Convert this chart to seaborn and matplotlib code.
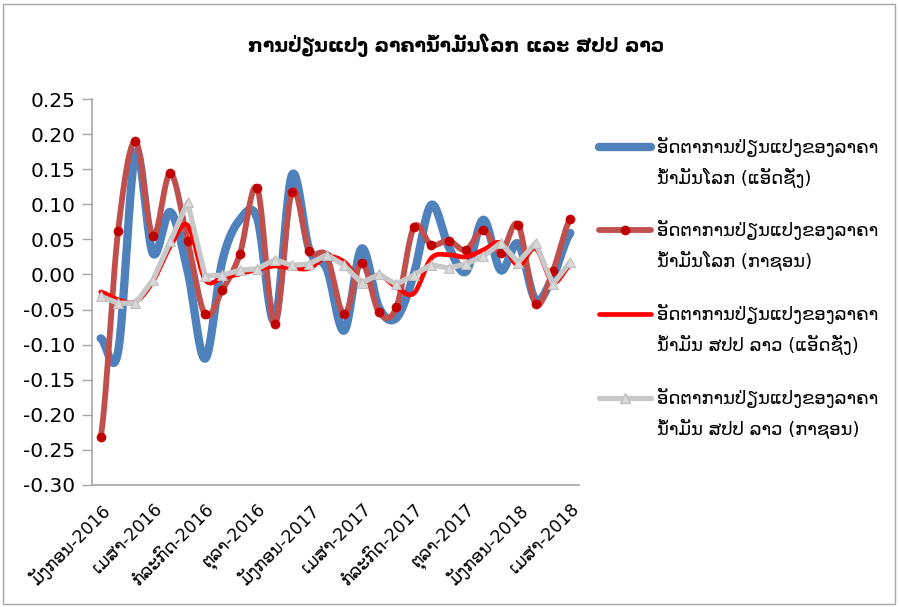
import numpy as np
import pandas as pd
import matplotlib
matplotlib.use("Agg")
import matplotlib.pyplot as plt
import seaborn as sns
from matplotlib.lines import Line2D
from matplotlib.patches import Rectangle

# ---------------- data ----------------
months = [
    "ມັງກອນ-2016", "ກຸມພາ-2016", "ມີນາ-2016", "ເມສາ-2016", "ພຶດສະພາ-2016", "ມິຖຸນາ-2016",
    "ກໍລະກົດ-2016", "ສິງຫາ-2016", "ກັນຍາ-2016", "ຕຸລາ-2016", "ພະຈິກ-2016", "ທັນວາ-2016",
    "ມັງກອນ-2017", "ກຸມພາ-2017", "ມີນາ-2017", "ເມສາ-2017", "ພຶດສະພາ-2017", "ມິຖຸນາ-2017",
    "ກໍລະກົດ-2017", "ສິງຫາ-2017", "ກັນຍາ-2017", "ຕຸລາ-2017", "ພະຈິກ-2017", "ທັນວາ-2017",
    "ມັງກອນ-2018", "ກຸມພາ-2018", "ມີນາ-2018", "ເມສາ-2018",
]
world_trend = [-0.091, -0.110, 0.173, 0.030, 0.089, 0.005, -0.120, 0.020, 0.078, 0.080,
               -0.066, 0.142, 0.035, 0.008, -0.080, 0.037, -0.047, -0.062, 0.000, 0.099,
               0.040, 0.004, 0.078, 0.006, 0.044, -0.036, -0.003, 0.059]
world_actual = [-0.232, 0.062, 0.190, 0.055, 0.144, 0.048, -0.057, -0.022, 0.029, 0.123,
                -0.071, 0.118, 0.034, 0.026, -0.057, 0.017, -0.054, -0.047, 0.067, 0.042,
                0.048, 0.035, 0.064, 0.031, 0.071, -0.042, 0.005, 0.079]
lao_trend = [-0.025, -0.036, -0.039, -0.010, 0.040, 0.070, -0.007, -0.005, 0.001, 0.007,
             0.012, 0.009, 0.009, 0.025, 0.018, -0.010, -0.001, -0.018, -0.027, 0.023,
             0.028, 0.025, 0.035, 0.045, 0.013, 0.037, -0.011, 0.013]
lao_actual = [-0.031, -0.041, -0.041, -0.008, 0.047, 0.103, -0.002, -0.001, 0.006, 0.008,
              0.021, 0.013, 0.015, 0.028, 0.013, -0.012, 0.000, -0.014, -0.001, 0.014,
              0.009, 0.015, 0.026, 0.045, 0.017, 0.045, -0.014, 0.018]

title = "ການປ່ຽນແປງ ລາຄານ້ຳມັນໂລກ ແລະ ສປປ ລາວ"
legend_labels = [
    ("ອັດຕາການປ່ຽນແປງຂອງລາຄາ", "ນ້ຳມັນໂລກ (ແອັດຊັ່ງ)"),
    ("ອັດຕາການປ່ຽນແປງຂອງລາຄາ", "ນ້ຳມັນໂລກ (ກາຊອນ)"),
    ("ອັດຕາການປ່ຽນແປງຂອງລາຄາ", "ນ້ຳມັນ ສປປ ລາວ (ແອັດຊັ່ງ)"),
    ("ອັດຕາການປ່ຽນແປງຂອງລາຄາ", "ນ້ຳມັນ ສປປ ລາວ (ກາຊອນ)"),
]
yticks = [0.25, 0.20, 0.15, 0.10, 0.05, 0.00, -0.05, -0.10, -0.15, -0.20, -0.25, -0.30]

# ---------------- style ----------------
sns.set_theme(style="white")
plt.rcParams["font.family"] = ["DejaVu Sans"]
plt.rcParams["axes.unicode_minus"] = False

W, H = 899, 607
fig = plt.figure(figsize=(W / 100, H / 100), dpi=100)
ax = fig.add_axes([92 / W, 1 - 485 / H, (579 - 92) / W, (485 - 99) / H])

def smooth(xv, yv, n=24):
    """Excel-like smoothed curve (uniform Catmull-Rom) through the data points."""
    xv = np.asarray(xv, float)
    yv = np.asarray(yv, float)
    xs, ys = [], []
    m = len(yv)
    for i in range(m - 1):
        p0 = yv[i - 1] if i > 0 else yv[i]
        p1, p2 = yv[i], yv[i + 1]
        p3 = yv[i + 2] if i + 2 < m else yv[i + 1]
        t = np.linspace(0, 1, n, endpoint=(i == m - 2))
        yy = 0.5 * (2 * p1 + (-p0 + p2) * t + (2 * p0 - 5 * p1 + 4 * p2 - p3) * t ** 2
                    + (-p0 + 3 * p1 - 3 * p2 + p3) * t ** 3)
        xs.append(xv[i] + (xv[i + 1] - xv[i]) * t)
        ys.append(yy)
    return np.concatenate(xs), np.concatenate(ys)

xpos = np.arange(len(months))
df = pd.DataFrame({"x": xpos, "wt": world_trend, "wa": world_actual,
                   "lt": lao_trend, "la": lao_actual})

c_blue = "#4F81BD"
c_dred = "#C0504D"
c_red = "#FF0000"
c_gray = "#C8C8C8"

sx, sy = smooth(df["x"], df["wt"])
sns.lineplot(x=sx, y=sy, ax=ax, color=c_blue, linewidth=6.0, sort=False,
             estimator=None, solid_capstyle="round", solid_joinstyle="round")
sx, sy = smooth(df["x"], df["wa"])
sns.lineplot(x=sx, y=sy, ax=ax, color=c_dred, linewidth=4.2, sort=False,
             estimator=None, solid_capstyle="round", solid_joinstyle="round")
sns.scatterplot(data=df, x="x", y="wa", ax=ax, color="#C00000", s=42,
                edgecolor="#C00000", linewidth=0.5, zorder=4)
sx, sy = smooth(df["x"], df["lt"])
sns.lineplot(x=sx, y=sy, ax=ax, color=c_red, linewidth=3.4, sort=False,
             estimator=None, solid_capstyle="round", solid_joinstyle="round", zorder=5)
sns.lineplot(data=df, x="x", y="la", ax=ax, color=c_gray, linewidth=3.8, sort=False,
             estimator=None, solid_capstyle="round", solid_joinstyle="round", zorder=6)
sns.scatterplot(data=df, x="x", y="la", ax=ax, marker="^", color="#D9D9D9", s=50,
                edgecolor="#BFBFBF", linewidth=0.8, zorder=7)

# ---------------- axes ----------------
ax.set_xlim(-0.5, len(months) - 0.5)
ax.set_ylim(-0.30, 0.25)
ax.set_yticks(yticks)
ax.set_yticklabels([f"{v:.2f}" for v in yticks], fontsize=14.5, color="black")
ax.set_xticks(xpos[::3])
ax.set_xticklabels([months[i] for i in range(0, len(months), 3)], rotation=45,
                   ha="right", rotation_mode="anchor", fontsize=12.5, color="black")
ax.set_xticks(np.arange(-0.5, len(months), 1.0), minor=True)
ax.tick_params(axis="x", which="major", length=0, pad=11)
ax.tick_params(axis="x", which="minor", length=6, width=1, color="#A6A6A6", direction="out")
ax.tick_params(axis="y", length=7, width=1, color="#A6A6A6", direction="out", pad=5, left=True)
ax.set_xlabel("")
ax.set_ylabel("")
for side in ["top", "right"]:
    ax.spines[side].set_visible(False)
for side in ["left", "bottom"]:
    ax.spines[side].set_color("#A6A6A6")
    ax.spines[side].set_linewidth(1.2)
ax.grid(False)

# ---------------- title ----------------
fig.text(456 / W, 1 - 45 / H, title, ha="center", va="center", fontsize=13.5,
         fontweight="bold", color="black")

# ---------------- legend ----------------
leg_y = [147, 230, 314, 398]
styles = [
    dict(color=c_blue, lw=6.0, marker=None),
    dict(color=c_dred, lw=4.2, marker="o", mfc="#C00000", mec="#C00000", ms=6),
    dict(color=c_red, lw=3.4, marker=None),
    dict(color=c_gray, lw=3.8, marker="^", mfc="#D9D9D9", mec="#BFBFBF", ms=7),
]
for yy, st, (l1, l2) in zip(leg_y, styles, legend_labels):
    yf = 1 - yy / H
    fig.add_artist(Line2D([599 / W, 651 / W], [yf, yf], transform=fig.transFigure,
                          color=st["color"], lw=st["lw"], solid_capstyle="round"))
    if st["marker"]:
        fig.add_artist(Line2D([625 / W], [yf], transform=fig.transFigure, marker=st["marker"],
                              markerfacecolor=st["mfc"], markeredgecolor=st["mec"],
                              markersize=st["ms"], linestyle="none"))
    fig.text(657 / W, yf, l1, ha="left", va="center", fontsize=13, color="black")
    fig.text(657 / W, 1 - (yy + 31) / H, l2, ha="left", va="center", fontsize=13, color="black")

# ---------------- chart border ----------------
fig.add_artist(Rectangle((3 / W, 3 / H), (W - 7) / W, (H - 7) / H, transform=fig.transFigure,
                         fill=False, edgecolor="#A6A6A6", linewidth=1))

fig.savefig("out.png", dpi=100)
